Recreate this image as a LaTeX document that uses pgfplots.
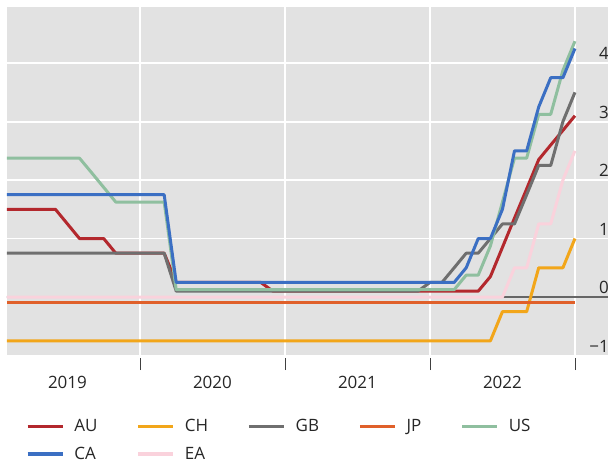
\documentclass[border=0pt]{standalone}
\usepackage{pgfplots}
\pgfplotsset{compat=1.18}
\usepackage{fontspec}
\setmainfont{Open Sans}
\definecolor{bg}{HTML}{E2E2E2}
\definecolor{cAU}{HTML}{B3282D}
\definecolor{cCH}{HTML}{F2A61A}
\definecolor{cGB}{HTML}{6F6F6F}
\definecolor{cJP}{HTML}{E0602A}
\definecolor{cUS}{HTML}{8FBF9F}
\definecolor{cCA}{HTML}{3B6FC3}
\definecolor{cEA}{HTML}{FAD2DC}
\definecolor{zeroc}{HTML}{666666}
\begin{document}
\begin{tikzpicture}
\useasboundingbox (-7bp,-110.5bp) rectangle (601bp,355.5bp);
\begin{axis}[
  at={(0,0)}, anchor=south west,
  scale only axis, width=601bp, height=348.5bp,
  xmin=2019.083, xmax=2023.228, ymin=-1, ymax=4.96,
  axis background/.style={fill=bg},
  axis line style={draw=none},
  grid=major, major grid style={white, line width=1.8bp},
  xtick={2020,2021,2022,2023}, xticklabels={},
  extra x ticks={2019.5,2020.5,2021.5,2022.5},
  extra x tick labels={2019,2020,2021,2022},
  extra x tick style={grid=none, major tick length=0pt, xticklabel style={yshift=-17bp}},
  xtick pos=bottom, tick align=outside, major tick length=12.5bp,
  xtick style={draw=black!75, line width=0.8bp, yshift=-2bp},
  ytick={-1,0,1,2,3,4}, yticklabels={−1,0,1,2,3,4},
  ytick style={draw=none},
  yticklabel pos=right,
  yticklabel style={anchor=south east, xshift=-10.5bp, yshift=2bp, inner sep=1bp},
  tick label style={font=\fontsize{17bp}{20bp}\selectfont, text=black!85},
  legend columns=5,
  legend style={at={(0.026,-0.1715)}, anchor=north west, draw=none, fill=none,
    font=\fontsize{17bp}{20bp}\selectfont, text=black!85,
    /tikz/every even column/.append style={column sep=37bp},
    row sep=10bp},
  legend cell align=left,
  legend image code/.code={\draw[#1, line width=3.5bp] (0bp,0bp) -- (35bp,0bp);},
  every axis plot/.append style={line width=3bp, line join=round},
  clip=true,
]
\addplot[draw=zeroc, line width=1.2bp, forget plot] coordinates {(2019,0) (2024,0)};
% AU
\addplot[cAU] coordinates {(2019.083,1.5)(2019.417,1.5)(2019.5,1.25)(2019.583,1.0)(2019.75,1.0)(2019.833,0.75)(2020.167,0.75)(2020.25,0.25)(2020.833,0.25)(2020.917,0.1)(2022.333,0.1)(2022.417,0.35)(2022.5,0.85)(2022.583,1.35)(2022.667,1.85)(2022.75,2.35)(2022.833,2.6)(2022.917,2.85)(2023.0,3.1)};
\addlegendentry{\hspace{8bp}AU}
% CH
\addplot[cCH] coordinates {(2019.083,-0.75)(2022.417,-0.75)(2022.5,-0.25)(2022.667,-0.25)(2022.75,0.5)(2022.917,0.5)(2023.0,1.0)};
\addlegendentry{\hspace{8bp}CH}
% GB
\addplot[cGB] coordinates {(2019.083,0.75)(2020.167,0.75)(2020.25,0.1)(2021.917,0.1)(2022.0,0.25)(2022.083,0.25)(2022.167,0.5)(2022.25,0.75)(2022.333,0.75)(2022.417,1.0)(2022.5,1.25)(2022.583,1.25)(2022.667,1.75)(2022.75,2.25)(2022.833,2.25)(2022.917,3.0)(2023.0,3.5)};
\addlegendentry{\hspace{8bp}GB}
% JP
\addplot[cJP] coordinates {(2019.083,-0.1)(2023.0,-0.1)};
\addlegendentry{\hspace{8bp}JP}
% US
\addplot[cUS] coordinates {(2019.083,2.375)(2019.583,2.375)(2019.667,2.125)(2019.75,1.875)(2019.833,1.625)(2020.167,1.625)(2020.25,0.125)(2022.167,0.125)(2022.25,0.375)(2022.333,0.375)(2022.417,0.875)(2022.5,1.625)(2022.583,2.375)(2022.667,2.375)(2022.75,3.125)(2022.833,3.125)(2022.917,3.875)(2023.0,4.375)};
\addlegendentry{\hspace{8bp}US}
% CA
\addplot[cCA] coordinates {(2019.083,1.75)(2020.167,1.75)(2020.25,0.25)(2022.167,0.25)(2022.25,0.5)(2022.333,1.0)(2022.417,1.0)(2022.5,1.5)(2022.583,2.5)(2022.667,2.5)(2022.75,3.25)(2022.833,3.75)(2022.917,3.75)(2023.0,4.25)};
\addlegendentry{\hspace{8bp}CA}
% EA
\addplot[cEA] coordinates {(2019.083,0)(2022.5,0)(2022.583,0.5)(2022.667,0.5)(2022.75,1.25)(2022.833,1.25)(2022.917,2.0)(2023.0,2.5)};
\addlegendentry{\hspace{8bp}EA}
\end{axis}
\end{tikzpicture}
\end{document}
